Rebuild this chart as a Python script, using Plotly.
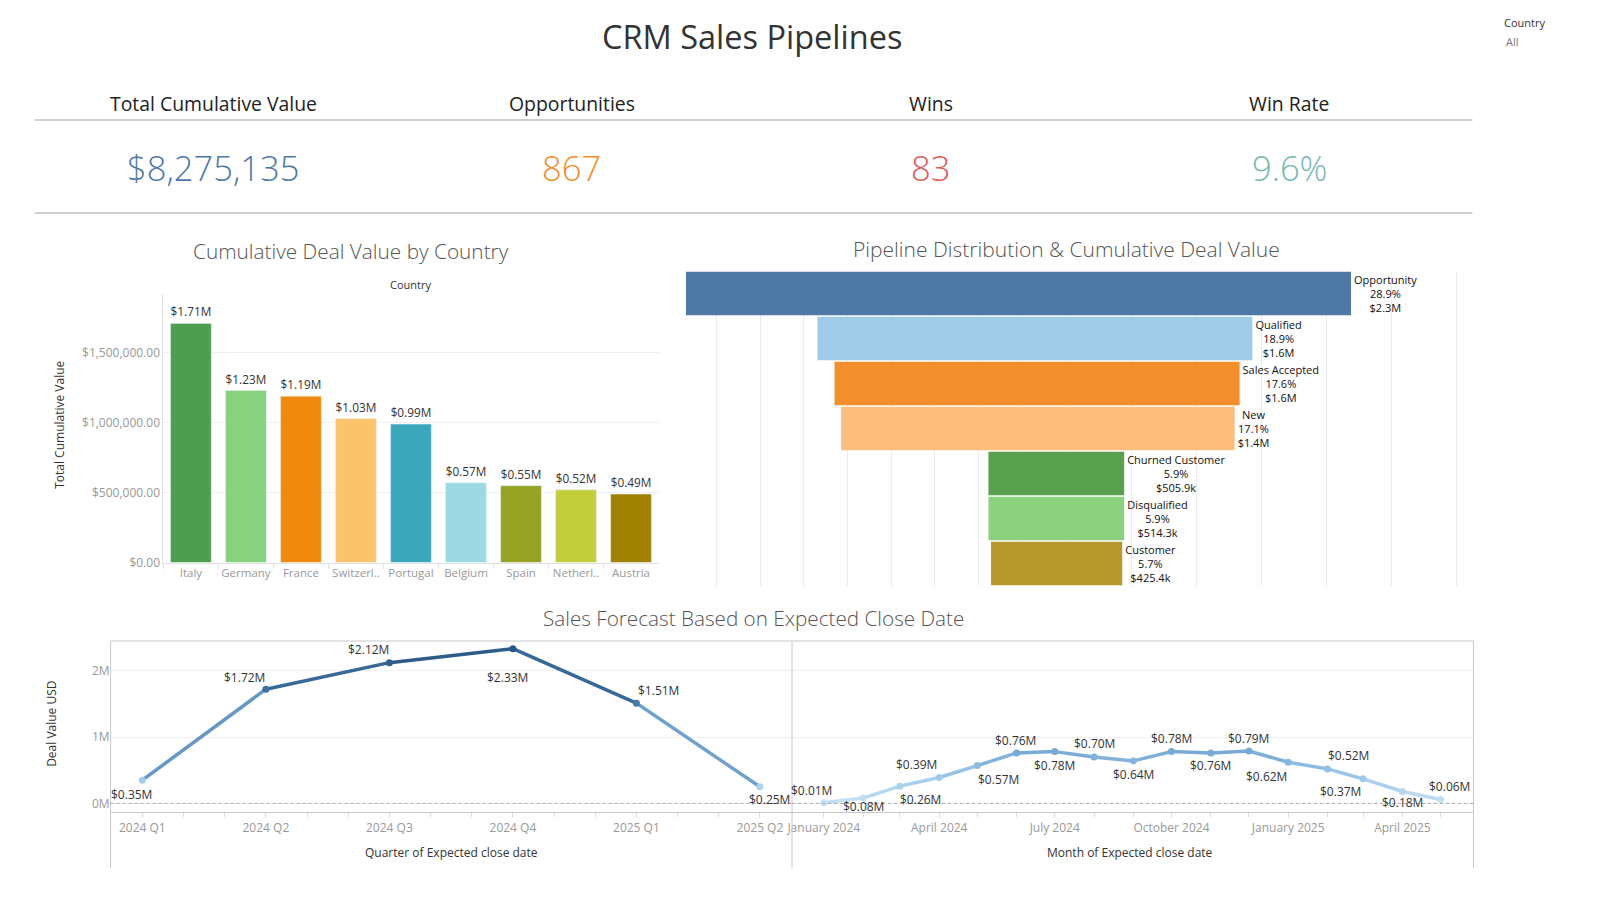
import plotly.graph_objects as go
from plotly.colors import sample_colorscale

W, H = 1599, 899
DX, SY = -4, 1.009  # small layout calibration
def px(x):
    return (x + DX) / W
def py(y):
    return 1 - (y * SY) / H

FONT = "Open Sans"

# ---------------- data ----------------
kpi_labels = ["Total Cumulative Value", "Opportunities", "Wins", "Win Rate"]
kpi_values = ["$8,275,135", "867", "83", "9.6%"]

countries = ["Italy", "Germany", "France", "Switzerland", "Portugal",
             "Belgium", "Spain", "Netherlands", "Austria"]
country_ticks = ["Italy", "Germany", "France", "Switzerl..", "Portugal",
                 "Belgium", "Spain", "Netherl..", "Austria"]
country_values = [1.71e6, 1.23e6, 1.19e6, 1.03e6, 0.99e6, 0.57e6, 0.55e6, 0.52e6, 0.49e6]

stages = ["Opportunity", "Qualified", "Sales Accepted", "New",
          "Churned Customer", "Disqualified", "Customer"]
stage_pct = [28.9, 18.9, 17.6, 17.1, 5.9, 5.9, 5.7]
stage_value = [2.3e6, 1.6e6, 1.6e6, 1.4e6, 505.9e3, 514.3e3, 425.4e3]

quarters = ["2024 Q1", "2024 Q2", "2024 Q3", "2024 Q4", "2025 Q1", "2025 Q2"]
quarter_values = [0.35, 1.72, 2.12, 2.33, 1.51, 0.25]

months = ["2024-01-01", "2024-02-01", "2024-03-01", "2024-04-01", "2024-05-01",
          "2024-06-01", "2024-07-01", "2024-08-01", "2024-09-01", "2024-10-01",
          "2024-11-01", "2024-12-01", "2025-01-01", "2025-02-01", "2025-03-01",
          "2025-04-01", "2025-05-01"]
month_values = [0.01, 0.08, 0.26, 0.39, 0.57, 0.76, 0.78, 0.70, 0.64, 0.78,
                0.76, 0.79, 0.62, 0.52, 0.37, 0.18, 0.06]

# ---------------- styles ----------------
kpi_colors = ["#4e79a7", "#f28e2b", "#e15759", "#76b7b2"]
kpi_x = [212, 572, 932, 1292]
country_colors = ["#4f9e50", "#88d17f", "#ef8a0c", "#fcc46a", "#3ba7bb",
                  "#9bd9e4", "#96a325", "#c3cf3a", "#a08200"]
stage_colors = ["#4e79a7", "#a0cbe8", "#f28e2b", "#ffbe7d", "#59a14f", "#8cd17d", "#b6992d"]
LEFT_FACTOR = 4 / 3  # left half of funnel drawn on a wider scale (dual axis)
blue_scale = [[0, "#c6e3f5"], [0.15, "#a3cdec"], [0.33, "#78aad6"],
              [0.6, "#4a7fb3"], [1, "#2a5783"]]
CMAX = 2.33
# label offsets (px) for line charts: (dx, dy) with dy positive = down
q_offsets = [(-11, 14), (-21, -12), (-21, -13), (-5, 29), (22, -13), (10, 13)]
m_offsets = [(-12, -12), (0, 8), (21, 13), (-23, -13), (21, 14), (-1, -12), (0, 14),
             (0, -13), (0, 14), (0, -13), (0, 13), (0, -12), (-22, 14), (21, -13),
             (-23, 13), (0, 11), (9, -13)]

fig = go.Figure()

# ---------------- bar chart by country ----------------
fig.add_trace(go.Bar(
    x=countries, y=country_values, marker_color=country_colors, width=0.74,
    text=[f"${v/1e6:.2f}M" for v in country_values], textposition="outside",
    textfont=dict(size=12, color="#333", family=FONT), cliponaxis=False,
    xaxis="x", yaxis="y", showlegend=False, hoverinfo="x+y"))

# ---------------- funnel ----------------
fig.add_trace(go.Bar(
    y=stages, x=[p * (1 + LEFT_FACTOR) for p in stage_pct],
    base=[-p * LEFT_FACTOR for p in stage_pct], orientation="h",
    marker=dict(color=stage_colors, line=dict(width=0)), width=0.97,
    text=[f"{s}<br>{p:.1f}%<br>" + (f"${v/1e6:.1f}M" if v >= 1e6 else f"${v/1e3:.1f}k")
          for s, p, v in zip(stages, stage_pct, stage_value)],
    textposition="outside", constraintext="none", cliponaxis=False,
    textfont=dict(size=11, color="#111", family=FONT),
    xaxis="x2", yaxis="y2", showlegend=False, hoverinfo="y"))

# ---------------- line charts ----------------
def color_of(v):
    return sample_colorscale(blue_scale, [min(v / CMAX, 1)])[0]

q_idx = list(range(len(quarters)))
for i in range(len(quarter_values) - 1):
    fig.add_trace(go.Scatter(
        x=q_idx[i:i + 2], y=quarter_values[i:i + 2], mode="lines",
        line=dict(color=color_of((quarter_values[i] + quarter_values[i + 1]) / 2), width=3.5),
        xaxis="x3", yaxis="y3", showlegend=False, hoverinfo="skip"))
fig.add_trace(go.Scatter(
    x=q_idx, y=quarter_values, mode="markers",
    marker=dict(size=7, color=quarter_values, colorscale=blue_scale, cmin=0, cmax=CMAX),
    xaxis="x3", yaxis="y3", showlegend=False))

for i in range(len(month_values) - 1):
    fig.add_trace(go.Scatter(
        x=months[i:i + 2], y=month_values[i:i + 2], mode="lines",
        line=dict(color=color_of((month_values[i] + month_values[i + 1]) / 2), width=3.5),
        xaxis="x4", yaxis="y4", showlegend=False, hoverinfo="skip"))
fig.add_trace(go.Scatter(
    x=months, y=month_values, mode="markers",
    marker=dict(size=7, color=month_values, colorscale=blue_scale, cmin=0, cmax=CMAX),
    xaxis="x4", yaxis="y4", showlegend=False))

annotations = []
for i, v in enumerate(quarter_values):
    dx, dy = q_offsets[i]
    annotations.append(dict(x=q_idx[i], y=v, xref="x3", yref="y3", text=f"${v:.2f}M",
                            showarrow=False, xshift=dx, yshift=-dy,
                            font=dict(size=12, color="#333", family=FONT)))
for i, v in enumerate(month_values):
    dx, dy = m_offsets[i]
    annotations.append(dict(x=months[i], y=v, xref="x4", yref="y4", text=f"${v:.2f}M",
                            showarrow=False, xshift=dx, yshift=-dy,
                            font=dict(size=12, color="#333", family=FONT)))

# ---------------- text elements ----------------
def txt(x, y, s, size, color="#333", anchor="center", angle=0, weight=400):
    annotations.append(dict(x=px(x), y=py(y), xref="paper", yref="paper", text=s,
                            showarrow=False, xanchor=anchor, yanchor="middle",
                            textangle=angle,
                            font=dict(size=size, color=color, family=FONT, weight=weight)))

txt(753, 36, "CRM Sales Pipelines", 32.5, "#333")
txt(1506, 22, "Country", 11, "#333", anchor="left")
txt(1508, 41, "All", 11, "#777", anchor="left")
for lab, val, col, x in zip(kpi_labels, kpi_values, kpi_colors, kpi_x):
    txt(x, 103, lab, 19.4, "#222")
    txt(x, 167, val, 34.5, col, weight=300)

txt(350, 251, "Cumulative Deal Value by Country", 20.8, "#555", weight=300)
txt(410, 284, "Country", 11, "#333")
txt(57, 425, "Total Cumulative Value", 12, "#333", angle=-90)
txt(1068, 249, "Pipeline Distribution &amp; Cumulative Deal Value", 21, "#555", weight=300)
txt(754, 618, "Sales Forecast Based on Expected Close Date", 20.7, "#555", weight=300)
txt(49, 724, "Deal Value USD", 12, "#333", angle=-90)
txt(451, 852, "Quarter of Expected close date", 12, "#333")
txt(1132, 852, "Month of Expected close date", 12, "#333")

# ---------------- shapes (separators / frames) ----------------
shapes = []
def hline(y, x0, x1, color="#d0d0d0", width=2):
    shapes.append(dict(type="line", xref="paper", yref="paper", x0=px(x0), x1=px(x1),
                       y0=py(y), y1=py(y), line=dict(color=color, width=width)))
def vline(x, y0, y1, color="#c8c8c8", width=1):
    shapes.append(dict(type="line", xref="paper", yref="paper", x0=px(x), x1=px(x),
                       y0=py(y0), y1=py(y1), line=dict(color=color, width=width)))

hline(120, 33, 1476)
hline(213, 33, 1476)
hline(641, 109, 1477, "#c8c8c8", 1)
for xv in (109, 793, 1477):
    vline(xv, 641, 868)
for xr, yr in (("x3 domain", "y3"), ("x4 domain", "y4")):
    shapes.append(dict(type="line", xref=xr, yref=yr, x0=0, x1=1, y0=0, y1=0,
                       line=dict(color="#aaa", width=1, dash="dot")))

# funnel gridlines: two scales
funnel_grid = [0] + [-4.43 * k for k in range(1, 10)] + [6.6 * k for k in range(1, 7)]

tick_font = dict(size=12, color="#999", family=FONT)
fig.update_layout(
    width=W, height=H, autosize=False, margin=dict(l=0, r=0, t=0, b=0),
    paper_bgcolor="white", plot_bgcolor="white", font=dict(family=FONT),
    showlegend=False, annotations=annotations, shapes=shapes,
    xaxis=dict(domain=[px(162), px(659)], anchor="y", type="category",
               tickmode="array", tickvals=countries, ticktext=country_ticks,
               tickfont=dict(size=11.5, color="#999", family=FONT), tickangle=0,
               showline=True, linecolor="#e3e3e3",
               ticks="outside", tickson="boundaries", ticklen=5, tickcolor="#e3e3e3",
               showgrid=False, fixedrange=True),
    yaxis=dict(domain=[py(562.6), py(294)], anchor="x", range=[0, 1.92e6],
               tickmode="linear", tick0=0, dtick=500000, tickformat="$,.2f",
               tickfont=tick_font, gridcolor="#f0f0f0", zeroline=False,
               showline=True, linecolor="#e3e3e3", ticks="", fixedrange=True),
    xaxis2=dict(domain=[px(673), px(1462)], anchor="y2", range=[-39.9, 39.8],
                tickmode="array", tickvals=funnel_grid, showticklabels=False,
                gridcolor="#ececec", zeroline=False, showline=False, ticks=""),
    yaxis2=dict(domain=[py(586), py(271)], anchor="x2", type="category",
                categoryorder="array", categoryarray=stages, autorange="reversed",
                showticklabels=False, showgrid=False, zeroline=False, ticks=""),
    xaxis3=dict(domain=[px(109), px(793)], anchor="y3", range=[-0.257, 5.26],
                tickmode="array", tickvals=q_idx, ticktext=quarters, tickfont=tick_font,
                showgrid=False, zeroline=False, showline=True, linecolor="#c8c8c8",
                ticks="outside", ticklen=5, tickcolor="#ddd",
                minor=dict(ticks="outside", tick0=0, dtick=1 / 3, ticklen=4,
                           tickcolor="#ddd", showgrid=False)),
    yaxis3=dict(domain=[py(811.5), py(641)], anchor="x3", range=[-0.122, 2.446],
                tickmode="array", tickvals=[0, 1, 2], ticktext=["0M", "1M", "2M"],
                tickfont=tick_font, gridcolor="#efefef", zeroline=False,
                showline=False, ticks=""),
    xaxis4=dict(domain=[px(793), px(1477)], anchor="y4", type="date",
                range=["2023-12-07", "2025-05-27"], tickformat="%B %Y",
                tick0="2024-01-01", dtick="M3", tickfont=tick_font, showgrid=False,
                zeroline=False, showline=True, linecolor="#c8c8c8",
                ticks="outside", ticklen=5, tickcolor="#ddd",
                minor=dict(ticks="outside", dtick="M1", ticklen=4, tickcolor="#ddd",
                           showgrid=False)),
    yaxis4=dict(domain=[py(811.5), py(641)], anchor="x4", range=[-0.122, 2.446],
                tickmode="array", tickvals=[0, 1, 2], showticklabels=False,
                gridcolor="#efefef", zeroline=False, showline=False, ticks=""),
)

page_css = (
    "var h=document.documentElement, b=document.body;"
    "[h,b].forEach(function(e){e.style.margin='0';e.style.padding='0';"
    "e.style.overflow='hidden';});"
)

fig.write_html(
    "out.html",
    config={"responsive": False, "displayModeBar": False},
    post_script=page_css,
)
